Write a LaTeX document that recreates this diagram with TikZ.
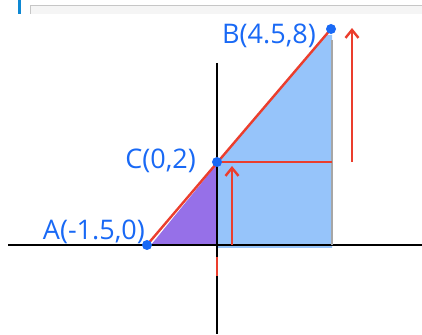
\documentclass[tikz,border=0pt]{standalone}
\usepackage{fontspec}
\setsansfont{Open Sans}
\usetikzlibrary{positioning,arrows.meta}

\definecolor{penblue}{RGB}{25,105,245}
\definecolor{penred}{RGB}{235,62,45}
\definecolor{fillblue}{RGB}{150,196,250}
\definecolor{fillpurple}{RGB}{150,112,232}

\tikzset{
  axis/.style={line width=2pt, black},
  redline/.style={line width=2.4pt, penred},
  redarrow/.style={redline, -{Straight Barb[length=8pt,width=13pt]}},
  pt/.style={circle, fill=penblue, inner sep=0pt, minimum size=10pt},
  lbl/.style={text=penblue, font=\sffamily\fontsize{27}{29}\selectfont, inner sep=0pt}
}

\begin{document}
\begin{tikzpicture}[x=1pt,y=1pt]
\useasboundingbox (0,0) rectangle (422,334);

% bandeau du haut
\fill[gray!8] (30,320) rectangle (422,329);
\draw[gray!45, line width=0.8pt] (30,320) -- (30,329) -- (422,329);
\fill[cyan!70!blue] (18,320) rectangle (21,334);

% zones colorees
\fill[fillblue] (217,172) -- (325,299) -- (332,299) -- (332,86) -- (217,86) -- cycle;
\fill[fillpurple] (151,89) -- (217,170) -- (217,88) -- cycle;

% reperes
\coordinate (A) at (147,89);
\coordinate (C) at (217,172);
\coordinate (B) at (331,305);
\coordinate (D) at (332,172);
\coordinate (E) at (332,89);

% axes
\draw[axis] (8,89) -- (422,89);
\draw[axis] (217,271) -- (217,0);
\draw[gray!70, line width=1.6pt] (332,294) -- (E);

% segments rouges
\draw[redline] (A) -- (B);
\draw[redline] (C) -- (D);
\draw[redline] (217,77) -- (217,58);

% fleches
\coordinate (p1) at (352,172);
\coordinate (p2) at (352,306);
\draw[redarrow] (p1) -- (p2);
\coordinate (q1) at (232,89);
\coordinate (q2) at (232,168);
\draw[redarrow] (q1) -- (q2);

% points
\node[pt] (ptA) at (A) {};
\node[pt] (ptC) at (C) {};
\node[pt] (ptB) at (B) {};

% etiquettes
\node[lbl, anchor=east] (labB) at (316,298) {B(4.5,8)};
\node[lbl, anchor=east] (labC) at (196,173) {C(0,2)};
\node[lbl, anchor=south east] (labA) at (145,90) {A(-1.5,0)};

\end{tikzpicture}
\end{document}
